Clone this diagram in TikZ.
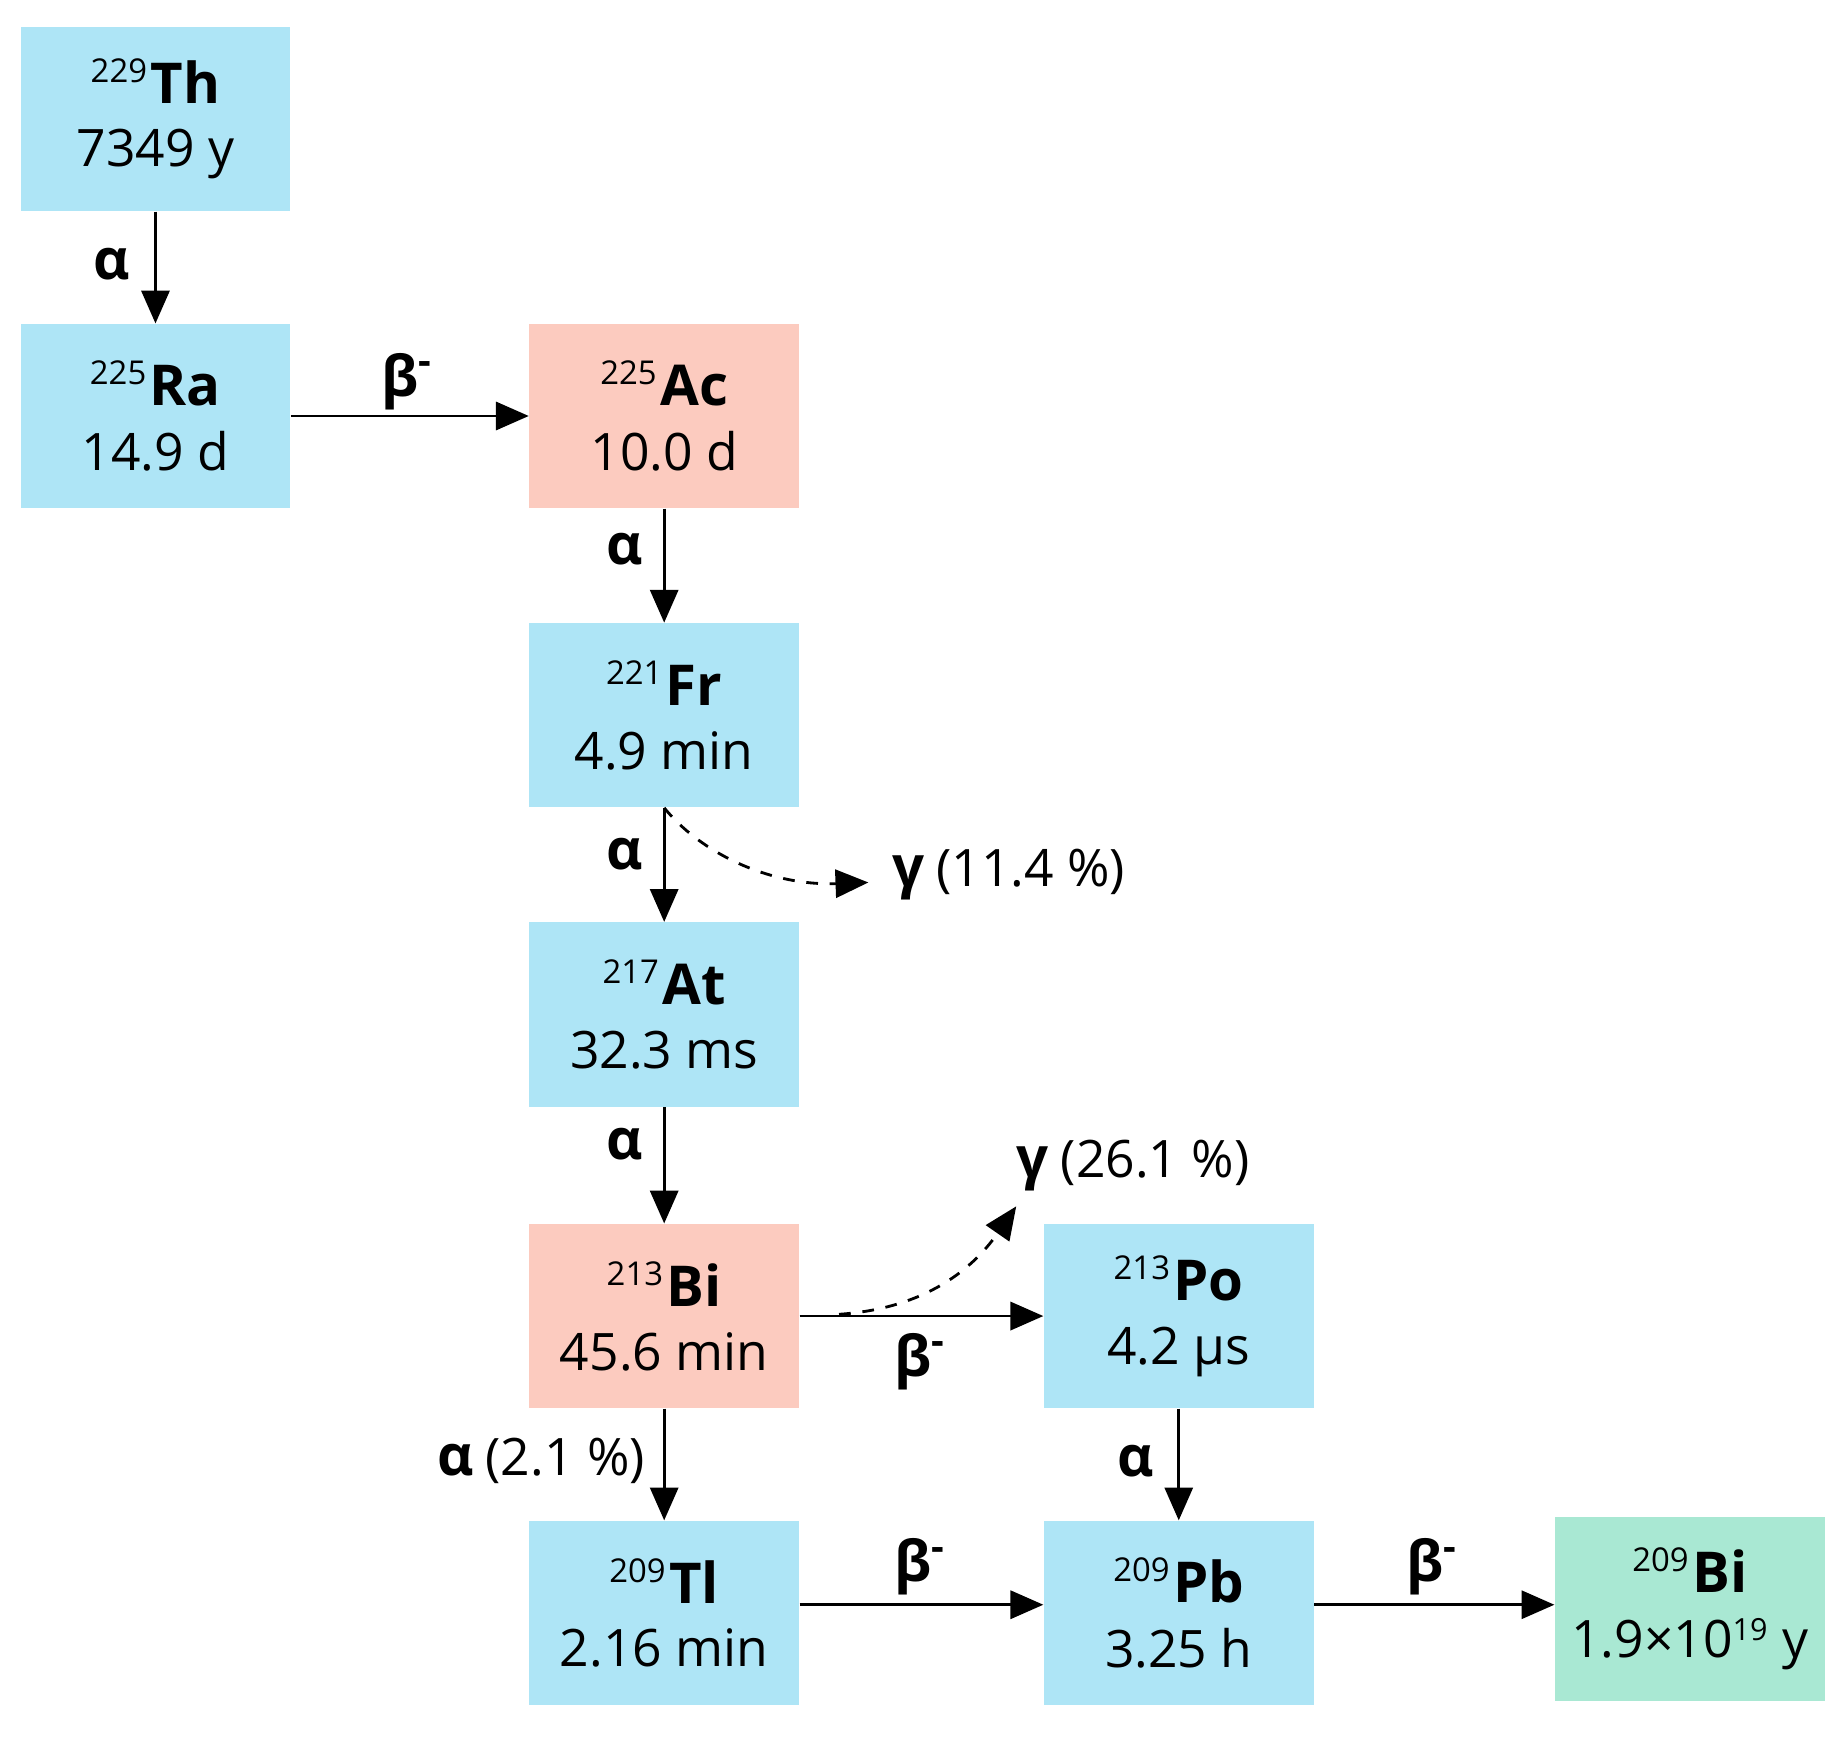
\documentclass[tikz,border=0pt]{standalone}
\usepackage{fontspec}
\setmainfont{Open Sans}
\usetikzlibrary{arrows.meta}
\definecolor{bl}{HTML}{AEE5F6}
\definecolor{sa}{HTML}{FCCBBF}
\definecolor{gr}{HTML}{A9E8D3}
\newcommand{\iso}[3]{{\fontsize{24}{28}\selectfont\bfseries\textsuperscript{\fontsize{14}{14}\selectfont\mdseries #1}\kern1pt #2}\\[10pt]{\fontsize{22}{26}\selectfont #3}}
\tikzset{
 box/.style={draw=none,fill=#1,minimum width=115pt,minimum height=78.5pt,align=center,inner sep=0pt},
 arr/.style={line width=1.2pt,-{Triangle[length=14pt,width=12pt]}},
 darr/.style={line width=1.2pt,dash pattern=on 5pt off 5pt,-{Triangle[length=14pt,width=12pt]}},
 lab/.style={font=\fontsize{22}{26}\selectfont,inner sep=1pt},
 gl/.style={font=\fontsize{24}{26}\selectfont\bfseries,inner sep=1pt}
}
\begin{document}
\begin{tikzpicture}[x=0.5pt,y=-0.5pt]
\useasboundingbox (0,0) rectangle (1568,1482);
\node[box=bl] (th) at (132.5,101.5) {\iso{229}{Th}{7349 y}};
\node[box=bl] (ra) at (132.5,354.5) {\iso{225}{Ra}{14.9 d}};
\node[box=sa] (ac) at (566,354.5) {\iso{225}{Ac}{10.0 d}};
\node[box=bl] (fr) at (566,609.5) {\iso{221}{Fr}{4.9 min}};
\node[box=bl] (at) at (566,864.5) {\iso{217}{At}{32.3 ms}};
\node[box=sa] (bi) at (566,1121.5) {\iso{213}{Bi}{45.6 min}};
\node[box=bl] (po) at (1004.5,1121.5) {\iso{213}{Po}{4.2 μs}};
\node[box=bl] (tl) at (566,1374.5) {\iso{209}{Tl}{2.16 min}};
\node[box=bl] (pb) at (1004.5,1374.5) {\iso{209}{Pb}{3.25 h}};
\node[box=gr] (bf) at (1440,1371) {\iso{209}{Bi}{1.9×10\textsuperscript{\fontsize{13}{13}\selectfont 19} y}};
\draw[arr] (th.south) -- (ra.north);
\draw[arr] (ra.east) -- (ac.west);
\draw[arr] (ac.south) -- (fr.north);
\draw[arr] (fr.south) -- (at.north);
\draw[arr] (at.south) -- (bi.north);
\draw[arr] (bi.east) -- (po.west);
\draw[arr] (bi.south) -- (tl.north);
\draw[arr] (po.south) -- (pb.north);
\draw[arr] ([yshift=3.5pt]tl.east) -- ([yshift=3.5pt]pb.west);
\draw[arr] ([yshift=3.5pt]pb.east) -- ([yshift=1.75pt]bf.west);
\coordinate (g1) at (740,752);
\coordinate (g2) at (866,1028);
\draw[darr] (fr.south) .. controls (600,730) and (660,755) .. (g1);
\draw[darr] (715,1120) .. controls (790,1115) and (830,1080) .. (g2);
\node[gl] (a1) at (95,225) {α};
\node[gl] (b1) at (347,325) {β\textsuperscript{-}};
\node[gl] (a2) at (532,468) {α};
\node[gl] (a3) at (532,728) {α};
\node[gl] (a4) at (532,975) {α};
\node[gl] (b2) at (784,1160) {β\textsuperscript{-}};
\node[anchor=east,inner sep=1pt] (a5) at (552,1245) {{\fontsize{24}{26}\selectfont\bfseries α}\ \ {\fontsize{22}{26}\selectfont(2.1 \%)}};
\node[gl] (a6) at (968,1245) {α};
\node[gl] (b3) at (784,1335) {β\textsuperscript{-}};
\node[gl] (b4) at (1220,1335) {β\textsuperscript{-}};
\node[anchor=west,inner sep=1pt] (t1) at (758,745) {{\fontsize{24}{26}\selectfont\bfseries γ}\ \ {\fontsize{22}{26}\selectfont(11.4 \%)}};
\node[anchor=west,inner sep=1pt] (t2) at (864,993) {{\fontsize{24}{26}\selectfont\bfseries γ}\ \ {\fontsize{22}{26}\selectfont(26.1 \%)}};
\end{tikzpicture}
\end{document}
